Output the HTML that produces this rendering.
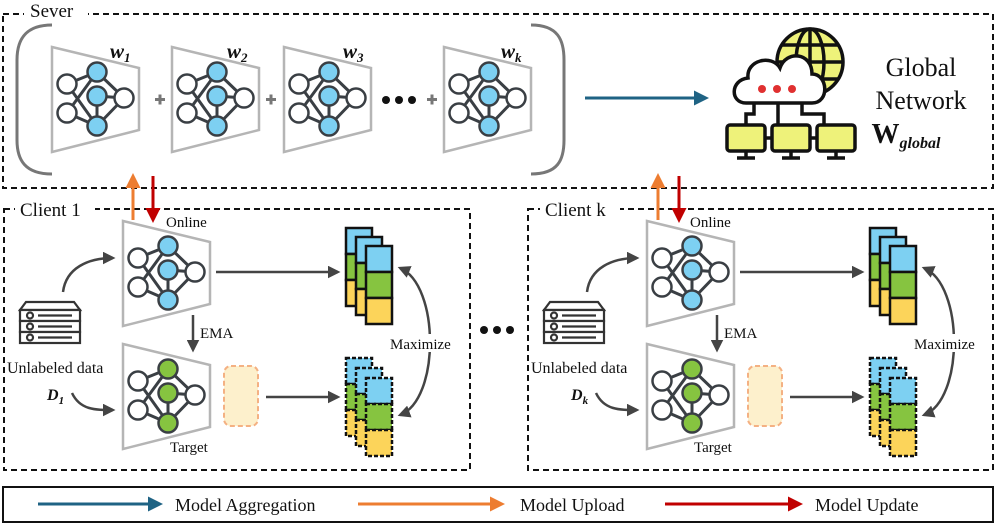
<!DOCTYPE html>
<html><head><meta charset="utf-8"><style>
body{margin:0;background:#fff}
svg{display:block}
text{font-family:"Liberation Serif",serif;fill:#111}
</style></head><body>
<svg width="997" height="526" viewBox="0 0 997 526" xmlns="http://www.w3.org/2000/svg">
<defs>
<marker id="ag" viewBox="0 0 10 10" refX="8" refY="5" markerWidth="5" markerHeight="5" orient="auto-start-reverse"><path d="M0,0 L10,5 L0,10 z" fill="#444"/></marker>
<marker id="ab" viewBox="0 0 10 10" refX="8" refY="5" markerWidth="5" markerHeight="5" orient="auto"><path d="M0,0 L10,5 L0,10 z" fill="#1f6384"/></marker>
<marker id="ao" viewBox="0 0 10 10" refX="8" refY="5" markerWidth="5" markerHeight="5" orient="auto"><path d="M0,0 L10,5 L0,10 z" fill="#ed7d31"/></marker>
<marker id="ar" viewBox="0 0 10 10" refX="8" refY="5" markerWidth="5" markerHeight="5" orient="auto"><path d="M0,0 L10,5 L0,10 z" fill="#c00000"/></marker>
<g id="edges" stroke="#3a3f44" stroke-width="3" fill="none">
<line x1="15" y1="37" x2="45" y2="25"/><line x1="15" y1="37" x2="45" y2="79"/>
<line x1="15" y1="66" x2="45" y2="25"/><line x1="15" y1="66" x2="45" y2="79"/>
<line x1="45" y1="25" x2="72" y2="51"/><line x1="45" y1="49" x2="72" y2="51"/>
<line x1="45" y1="79" x2="72" y2="51"/><line x1="45" y1="49" x2="45" y2="79"/>
</g>
<g id="netB">
<polygon points="0,0 87,21 87,83 0,105" fill="#fff" stroke="#b5b5b5" stroke-width="2.5"/>
<use href="#edges"/>
<g stroke="#3a3f44" stroke-width="2.5">
<circle cx="15" cy="37" r="9.5" fill="#fff"/><circle cx="15" cy="66" r="9.5" fill="#fff"/><circle cx="72" cy="51" r="9.5" fill="#fff"/>
<circle cx="45" cy="25" r="9.5" fill="#7dd0f2"/><circle cx="45" cy="49" r="9.5" fill="#7dd0f2"/><circle cx="45" cy="79" r="9.5" fill="#7dd0f2"/>
</g></g>
<g id="netG">
<polygon points="0,0 87,21 87,83 0,105" fill="#fff" stroke="#b5b5b5" stroke-width="2.5"/>
<use href="#edges"/>
<g stroke="#3a3f44" stroke-width="2.5">
<circle cx="15" cy="37" r="9.5" fill="#fff"/><circle cx="15" cy="66" r="9.5" fill="#fff"/><circle cx="72" cy="51" r="9.5" fill="#fff"/>
<circle cx="45" cy="25" r="9.5" fill="#86c440"/><circle cx="45" cy="49" r="9.5" fill="#86c440"/><circle cx="45" cy="79" r="9.5" fill="#86c440"/>
</g></g>
<g id="col" stroke="#111" stroke-width="2.5">
<rect x="0" y="0" width="26" height="26" fill="#7dd0f2"/><rect x="0" y="26" width="26" height="26" fill="#86c440"/><rect x="0" y="52" width="26" height="26" fill="#fcd45a"/>
</g>
<g id="colD" stroke="#111" stroke-width="2.5" stroke-dasharray="4,2">
<rect x="0" y="0" width="26" height="26" fill="#7dd0f2"/><rect x="0" y="26" width="26" height="26" fill="#86c440"/><rect x="0" y="52" width="26" height="26" fill="#fcd45a"/>
</g>
<g id="srv" stroke="#333" stroke-width="2.2" fill="#fff">
<path d="M20,310 L26,302 L74,302 L80,310 Z"/>
<rect x="20" y="310" width="60" height="11"/><rect x="20" y="321" width="60" height="11"/><rect x="20" y="332" width="60" height="11"/>
<circle cx="30" cy="315.5" r="3"/><circle cx="30" cy="326.5" r="3"/><circle cx="30" cy="337.5" r="3"/>
<line x1="38" y1="315.5" x2="72" y2="315.5"/><line x1="38" y1="326.5" x2="72" y2="326.5"/><line x1="38" y1="337.5" x2="72" y2="337.5"/>
</g>
<g id="client">
<use href="#srv"/>
<text x="7" y="373" font-size="16">Unlabeled data</text>
<path d="M63,292 C66,268 88,258 113,258" stroke="#444" stroke-width="2.5" fill="none" marker-end="url(#ag)"/>
<path d="M72,393 C80,410 95,410 113,410" stroke="#444" stroke-width="2.5" fill="none" marker-end="url(#ag)"/>
<use href="#netB" transform="translate(123,221)"/>
<use href="#netG" transform="translate(123,344)"/>
<text x="166" y="227" font-size="15">Online</text>
<text x="170" y="452" font-size="15">Target</text>
<line x1="193" y1="315" x2="193" y2="350" stroke="#444" stroke-width="2.5" marker-end="url(#ag)"/>
<text x="200" y="338" font-size="15">EMA</text>
<rect x="224" y="366" width="34" height="60" rx="7" fill="#fdf0cc" stroke="#f4b183" stroke-width="2" stroke-dasharray="5,3"/>
<line x1="216" y1="272" x2="338" y2="272" stroke="#444" stroke-width="2.5" marker-end="url(#ag)"/>
<line x1="266" y1="397" x2="338" y2="397" stroke="#444" stroke-width="2.5" marker-end="url(#ag)"/>
<use href="#col" transform="translate(346,228)"/><use href="#col" transform="translate(356,237)"/><use href="#col" transform="translate(366,246)"/>
<use href="#colD" transform="translate(346,358)"/><use href="#colD" transform="translate(356,368)"/><use href="#colD" transform="translate(366,378)"/>
<path d="M400,268 C440,285 440,400 400,415" stroke="#444" stroke-width="2.5" fill="none" marker-start="url(#ag)" marker-end="url(#ag)"/>
<rect x="390" y="334" width="68" height="18" fill="#fff"/>
<text x="390" y="349" font-size="15">Maximize</text>
</g>
</defs>

<!-- Server -->
<rect x="3" y="14" width="990" height="174" fill="none" stroke="#111" stroke-width="2" stroke-dasharray="6,4"/>
<rect x="24" y="2" width="64" height="22" fill="#fff"/>
<text x="30" y="17" font-size="19">Sever</text>
<path d="M52,25 C25,25 17,40 17,60 L17,140 C17,160 25,174 52,174" stroke="#777" stroke-width="3" fill="none"/>
<path d="M531,25 C558,25 564,40 564,60 L564,140 C564,160 558,174 531,174" stroke="#777" stroke-width="3" fill="none"/>
<use href="#netB" transform="translate(52,47)"/>
<use href="#netB" transform="translate(172,47)"/>
<use href="#netB" transform="translate(284,47)"/>
<use href="#netB" transform="translate(444,47)"/>
<g font-size="21" font-weight="bold" font-style="italic">
<text x="110" y="58">w<tspan font-size="13" dy="4">1</tspan></text>
<text x="227" y="58">w<tspan font-size="13" dy="4">2</tspan></text>
<text x="343" y="58">w<tspan font-size="13" dy="4">3</tspan></text>
<text x="501" y="58">w<tspan font-size="13" dy="4">k</tspan></text>
</g>
<g fill="#777"><rect x="155" y="98" width="10" height="3"/><rect x="158.5" y="94.5" width="3" height="10"/>
<rect x="266" y="98" width="10" height="3"/><rect x="269.5" y="94.5" width="3" height="10"/>
<rect x="427" y="98" width="10" height="3"/><rect x="430.5" y="94.5" width="3" height="10"/></g>
<circle cx="386" cy="100" r="4" fill="#111"/><circle cx="399" cy="100" r="4" fill="#111"/><circle cx="412" cy="100" r="4" fill="#111"/>
<line x1="585" y1="98" x2="706" y2="98" stroke="#1f6384" stroke-width="3" marker-end="url(#ab)"/>

<!-- global icon -->
<g stroke="#111" stroke-width="3.5">
<circle cx="810" cy="62" r="33" fill="#eef27a"/>
<ellipse cx="810" cy="62" rx="14" ry="33" fill="none"/><line x1="777" y1="62" x2="843" y2="62"/><line x1="810" y1="29" x2="810" y2="95"/>
<line x1="781" y1="45" x2="839" y2="45"/><line x1="781" y1="79" x2="839" y2="79"/>
<path d="M746,103 C730,103 730,80 748,78 C746,60 772,54 780,68 C786,50 812,52 812,74 C828,74 830,103 812,103 Z" fill="#fff"/>
<line x1="778" y1="103" x2="778" y2="125"/><path d="M754,103 L754,114 L746,114 L746,125" fill="none"/><path d="M802,103 L802,114 L824,114 L824,125" fill="none"/>
<rect x="727" y="125" width="38" height="26" rx="3" fill="#eef27a"/><rect x="772" y="125" width="38" height="26" rx="3" fill="#eef27a"/><rect x="817" y="125" width="38" height="26" rx="3" fill="#eef27a"/>
<line x1="765" y1="138" x2="772" y2="138"/><line x1="810" y1="138" x2="817" y2="138"/>
<line x1="746" y1="151" x2="746" y2="157"/><line x1="791" y1="151" x2="791" y2="157"/><line x1="836" y1="151" x2="836" y2="157"/>
<line x1="737" y1="158" x2="755" y2="158"/><line x1="782" y1="158" x2="800" y2="158"/><line x1="827" y1="158" x2="845" y2="158"/>
</g>
<g fill="#e03030"><circle cx="762" cy="89" r="4"/><circle cx="777" cy="89" r="4"/><circle cx="792" cy="89" r="4"/></g>
<g font-size="26" text-anchor="middle">
<text x="921" y="76">Global</text>
<text x="921" y="109">Network</text>
<text x="906" y="143" font-weight="bold" font-size="28">W<tspan font-size="16" font-style="italic" dy="5">global</tspan></text>
</g>

<!-- clients -->
<rect x="4" y="209" width="466" height="261" fill="none" stroke="#111" stroke-width="2" stroke-dasharray="6,4"/>
<rect x="528" y="209" width="465" height="261" fill="none" stroke="#111" stroke-width="2" stroke-dasharray="6,4"/>
<rect x="15" y="199" width="80" height="22" fill="#fff"/>
<text x="20" y="216" font-size="19">Client 1</text>
<rect x="540" y="199" width="80" height="22" fill="#fff"/>
<text x="545" y="216" font-size="19">Client k</text>
<use href="#client"/>
<use href="#client" transform="translate(524,0)"/>
<text x="47" y="400" font-size="16" font-weight="bold" font-style="italic">D<tspan font-size="11" dy="4">1</tspan></text>
<text x="571" y="400" font-size="16" font-weight="bold" font-style="italic">D<tspan font-size="11" dy="4">k</tspan></text>
<circle cx="484" cy="330" r="4" fill="#111"/><circle cx="497" cy="330" r="4" fill="#111"/><circle cx="510" cy="330" r="4" fill="#111"/>
<line x1="133" y1="220" x2="133" y2="176" stroke="#ed7d31" stroke-width="3" marker-end="url(#ao)"/>
<line x1="153" y1="176" x2="153" y2="220" stroke="#c00000" stroke-width="3" marker-end="url(#ar)"/>
<line x1="658" y1="220" x2="658" y2="176" stroke="#ed7d31" stroke-width="3" marker-end="url(#ao)"/>
<line x1="679" y1="176" x2="679" y2="220" stroke="#c00000" stroke-width="3" marker-end="url(#ar)"/>

<!-- legend -->
<rect x="3" y="487" width="990" height="35" fill="none" stroke="#111" stroke-width="2"/>
<line x1="38" y1="504" x2="160" y2="504" stroke="#1f6384" stroke-width="3" marker-end="url(#ab)"/>
<text x="175" y="511" font-size="18">Model Aggregation</text>
<line x1="358" y1="504" x2="502" y2="504" stroke="#ed7d31" stroke-width="3" marker-end="url(#ao)"/>
<text x="520" y="511" font-size="18">Model Upload</text>
<line x1="665" y1="504" x2="800" y2="504" stroke="#c00000" stroke-width="3" marker-end="url(#ar)"/>
<text x="815" y="511" font-size="18">Model Update</text>
</svg>
</body></html>
